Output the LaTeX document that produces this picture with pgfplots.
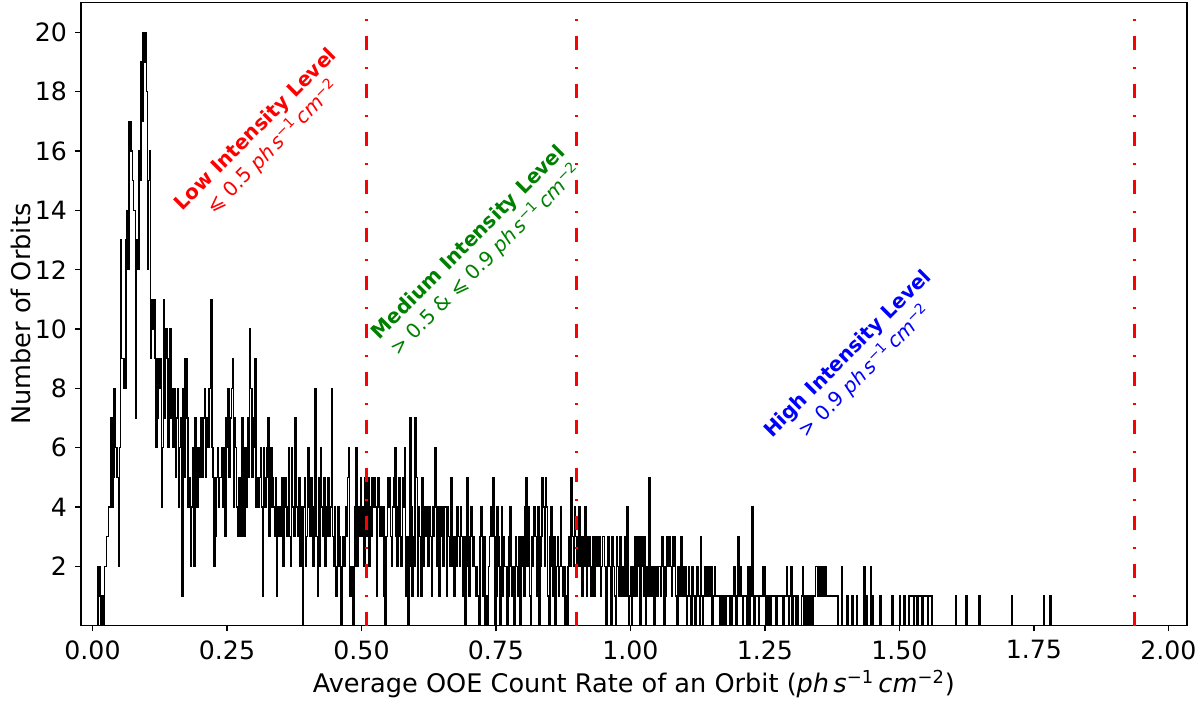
\documentclass[border=0pt]{standalone}
\usepackage{fontspec}
\setmainfont{DejaVu Sans}
\usepackage{pgfplots}
\pgfplotsset{compat=1.18}
\usepackage{pgfplotstable}
\definecolor{mplgreen}{RGB}{0,128,0}
\newcommand{\unitx}{\textit{ph}\,\textit{s}\textsuperscript{−1}\,\textit{cm}\textsuperscript{−2}}

% counts per bin (bin width 0.002, first bin starts at 0.010; leading 0 opens the step outline)
\pgfplotstableread[row sep=\\]{
y\\
0\\
2\\2\\1\\0\\1\\0\\2\\2\\3\\3\\4\\4\\7\\4\\5\\8\\6\\6\\5\\2\\
6\\13\\9\\9\\8\\8\\13\\14\\12\\17\\17\\16\\15\\14\\14\\7\\13\\12\\16\\15\\
19\\17\\20\\19\\20\\18\\12\\15\\16\\9\\11\\10\\11\\9\\6\\7\\9\\8\\9\\4\\
6\\11\\7\\10\\9\\6\\8\\
10\\7\\8\\6\\8\\5\\7\\8\\4\\6\\7\\1\\
8\\5\\9\\9\\7\\4\\5\\2\\
4\\6\\2\\7\\6\\4\\6\\
5\\6\\7\\5\\7\\8\\5\\7\\6\\8\\8\\
11\\
6\\5\\2\\3\\5\\6\\4\\5\\
5\\6\\4\\6\\3\\7\\6\\8\\5\\7\\8\\9\\4\\7\\6\\
4\\3\\5\\4\\3\\7\\5\\3\\6\\4\\7\\5\\10\\8\\5\\7\\6\\9\\4\\5\\
4\\5\\6\\4\\1\\6\\4\\5\\6\\7\\3\\4\\6\\5\\4\\3\\5\\1\\4\\3\\
4\\3\\5\\2\\4\\5\\4\\3\\6\\3\\2\\6\\4\\3\\7\\4\\4\\3\\5\\2\\4\\0\\
4\\5\\2\\3\\6\\4\\3\\5\\4\\2\\3\\8\\3\\1\\5\\2\\6\\4\\3\\5\\2\\4\\3\\5\\
3\\4\\8\\3\\2\\4\\1\\2\\4\\3\\2\\0\\2\\3\\2\\4\\3\\5\\6\\
1\\2\\1\\0\\2\\4\\6\\2\\4\\3\\5\\3\\4\\2\\
5\\3\\4\\5\\2\\4\\3\\5\\4\\
5\\4\\1\\5\\4\\3\\4\\3\\4\\
1\\0\\3\\5\\4\\5\\3\\2\\4\\5\\
6\\3\\2\\4\\5\\3\\2\\5\\4\\
6\\1\\3\\0\\2\\7\\4\\1\\3\\2\\
7\\5\\1\\4\\3\\1\\5\\2\\4\\
4\\3\\4\\2\\4\\3\\1\\4\\3\\
6\\4\\2\\4\\1\\4\\3\\4\\2\\4\\
4\\1\\4\\3\\2\\5\\3\\2\\1\\
3\\2\\4\\3\\2\\4\\3\\1\\3\\
0\\3\\5\\2\\1\\3\\4\\2\\3\\2\\
1\\2\\1\\0\\3\\4\\3\\1\\3\\
0\\1\\0\\2\\3\\4\\3\\5\\3\\
0\\1\\4\\3\\2\\0\\4\\1\\3\\2\\
2\\0\\1\\3\\4\\2\\1\\2\\0\\
3\\2\\1\\3\\0\\3\\2\\3\\1\\
4\\5\\2\\4\\1\\0\\3\\2\\4\\3\\
3\\1\\4\\0\\2\\3\\5\\4\\2\\
5\\4\\1\\0\\3\\4\\2\\1\\3\\
0\\2\\3\\1\\2\\4\\2\\1\\2\\0\\
1\\0\\2\\3\\2\\5\\3\\2\\4\\
3\\2\\3\\4\\
2\\3\\1\\3\\2\\4\\1\\3\\2\\
3\\1\\2\\3\\1\\3\\2\\3\\2\\
3\\1\\2\\3\\3\\2\\0\\2\\3\\2\\
2\\0\\3\\2\\1\\0\\3\\2\\1\\
3\\2\\1\\2\\1\\3\\1\\4\\0\\1\\
2\\0\\2\\1\\3\\1\\3\\2\\3\\
0\\2\\3\\1\\3\\0\\2\\1\\5\\
2\\1\\1\\2\\0\\1\\2\\1\\2\\2\\
1\\3\\2\\0\\1\\2\\3\\2\\3\\
2\\1\\3\\2\\3\\1\\0\\2\\2\\
1\\3\\1\\2\\1\\2\\0\\1\\2\\1\\
0\\2\\1\\1\\0\\1\\2\\1\\0\\
3\\1\\0\\1\\2\\1\\1\\2\\1\\
1\\2\\0\\1\\2\\1\\1\\1\\1\\0\\
1\\1\\0\\1\\0\\1\\1\\1\\0\\
1\\0\\1\\2\\1\\0\\1\\3\\1\\
2\\1\\0\\1\\1\\1\\0\\2\\0\\1\\
2\\4\\1\\0\\1\\1\\1\\0\\1\\
1\\1\\2\\2\\1\\0\\1\\0\\1\\
0\\1\\1\\1\\1\\0\\1\\1\\1\\1\\
1\\1\\0\\1\\1\\2\\1\\0\\1\\
2\\0\\1\\1\\
1\\0\\1\\0\\0\\
0\\1\\2\\0\\1\\
0\\1\\
1\\0\\1\\1\\0\\1\\
1\\2\\2\\1\\2\\2\\1\\2\\1\\1\\2\\1\\
1\\1\\1\\1\\1\\1\\1\\1\\1\\1\\
0\\0\\0\\2\\0\\0\\0\\0\\1\\0\\0\\0\\0\\1\\0\\0\\0\\1\\0\\
0\\0\\0\\0\\0\\2\\0\\1\\0\\0\\0\\2\\0\\1\\0\\
0\\0\\0\\0\\0\\1\\
0\\0\\0\\0\\0\\0\\0\\0\\0\\0\\1\\0\\0\\
0\\0\\0\\0\\1\\0\\0\\0\\1\\0\\0\\0\\0\\1\\
1\\1\\1\\0\\1\\1\\0\\1\\1\\1\\1\\0\\1\\1\\1\\1\\0\\1\\1\\1\\
0\\0\\0\\0\\0\\0\\0\\0\\0\\0\\0\\0\\0\\0\\0\\0\\0\\0\\0\\0\\0\\0\\
1\\
0\\0\\0\\0\\0\\0\\0\\0\\0\\
1\\
0\\0\\0\\0\\0\\0\\0\\0\\0\\0\\0\\
1\\
0\\0\\0\\0\\0\\0\\0\\0\\0\\0\\0\\0\\0\\0\\0\\0\\0\\0\\0\\0\\0\\0\\0\\0\\0\\0\\0\\0\\0\\
1\\
0\\0\\0\\0\\0\\0\\0\\0\\0\\0\\0\\0\\0\\0\\0\\0\\0\\0\\0\\0\\0\\0\\0\\0\\0\\0\\0\\0\\0\\
1\\
0\\0\\0\\0\\0\\
1\\
0\\
}\histdata

\begin{document}
\begin{tikzpicture}
\begin{axis}[
  scale only axis,
  width=552.85bp, height=311.5bp,
  xmin=-0.0214, xmax=2.034,
  ymin=0, ymax=21,
  xtick={0,0.25,0.5,0.75,1,1.25,1.5,1.75,2},
  xticklabels={0.00,0.25,0.50,0.75,1.00,1.25,1.50,1.75,2.00},
  ytick={2,4,6,8,10,12,14,16,18,20},
  yticklabels={2,4,6,8,10,12,14,16,18,20},
  tick pos=left, tick align=outside,
  major tick length=2.85bp,
  axis line style={line width=0.8bp},
  every tick/.style={black, line width=0.8bp},
  ticklabel style={font=\fontsize{12.6bp}{15bp}\selectfont},
  xticklabel style={inner sep=0pt, anchor=north, yshift=-4.3bp},
  yticklabel style={inner sep=0pt, anchor=east, xshift=-4bp},
  xlabel={Average OOE Count Rate of an Orbit (\unitx)},
  ylabel={Number of Orbits},
  every axis x label/.style={at={(axis description cs:0.5,-0.107)}, anchor=base,
    font=\fontsize{12.8bp}{15bp}\selectfont},
  every axis y label/.style={at={(axis description cs:-0.0461,0.5)}, rotate=90, anchor=base,
    font=\fontsize{12.8bp}{15bp}\selectfont},
]
\addplot[const plot mark left, black, line width=0.8bp, forget plot]
  table[x expr=0.008+0.002*\coordindex, y=y] {\histdata};

\addplot[red, line width=1.5bp, dash pattern=on 6.65bp off 7.5bp on 1.35bp off 8.5bp, forget plot]
  coordinates {(0.51,0) (0.51,21)};
\addplot[red, line width=1.5bp, dash pattern=on 6.65bp off 7.5bp on 1.35bp off 8.5bp, forget plot]
  coordinates {(0.9,0) (0.9,21)};
\addplot[red, line width=1.5bp, dash pattern=on 6.65bp off 7.5bp on 1.35bp off 8.5bp, forget plot]
  coordinates {(1.9377,0) (1.9377,21)};

\node[rotate=45, align=center, text=red, font=\fontsize{10bp}{12.5bp}\selectfont]
  at (axis cs:0.3206,16.41) {\textbf{Low Intensity Level}\\⩽ 0.5 \unitx};
\node[rotate=45, align=center, text=mplgreen, font=\fontsize{10bp}{12.5bp}\selectfont]
  at (axis cs:0.7165,12.6) {\textbf{Medium Intensity Level}\\> 0.5 \& ⩽ 0.9 \unitx};
\node[rotate=45, align=center, text=blue, font=\fontsize{10bp}{12.5bp}\selectfont]
  at (axis cs:1.4210,8.85) {\textbf{High Intensity Level}\\> 0.9 \unitx};
\end{axis}
\pgfresetboundingbox
\useasboundingbox ([xshift=-40.5bp,yshift=-39.5bp]current axis.south west) rectangle ([xshift=6.65bp,yshift=1.35bp]current axis.north east);
\end{tikzpicture}
\end{document}
